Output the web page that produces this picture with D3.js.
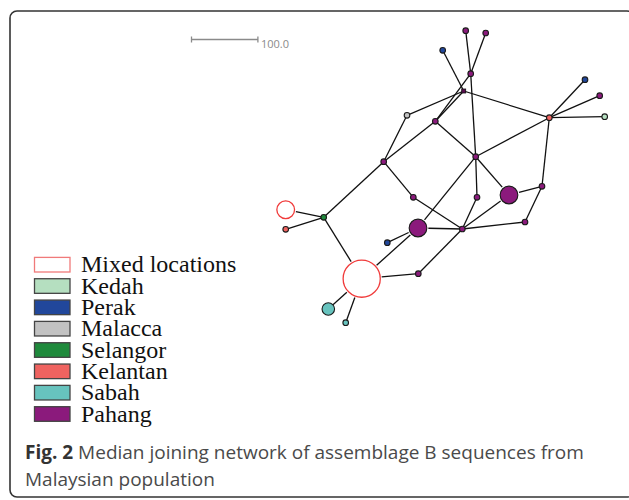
<!DOCTYPE html>
<html>
<head>
<meta charset="utf-8">
<script src="https://cdn.jsdelivr.net/npm/d3@7"></script>
<style>
  html, body { margin: 0; padding: 0; background: #fff; }
  svg { display: block; }
</style>
</head>
<body>
<svg id="chart" width="629" height="500"></svg>
<script>
// ---------- DATA ----------
const locations = ["Mixed locations", "Kedah", "Perak", "Malacca", "Selangor", "Kelantan", "Sabah", "Pahang"];
const locationColors = ["#ffffff", "#b5dfc0", "#21479b", "#c2c2c2", "#1f8a3c", "#ef6360", "#67c3be", "#8b1a7c"];

// haplotype nodes (layout units), location, frequency
const nodeIds   = ["n1","n2","n3","n4","mv","n5","n6","n7","n8","n9","n10","n11","n12","n13","n14","n15","n16","n17","n18","n19","n20","n21","n22","n23","n24","n25","n26","n27"];
const nodeLoc   = ["Pahang","Pahang","Perak","Pahang","median","Malacca","Pahang","Kelantan","Perak","Pahang","Kedah","Pahang","Pahang","Pahang","Pahang","Pahang","Pahang","Pahang","Pahang","Pahang","Perak","Selangor","Mixed locations","Kelantan","Mixed locations","Pahang","Sabah","Sabah"];
const nodeX     = [185.7, 205.7, 162.7, 190.7, 183.7, 127.0, 155.3, 269.3, 305.0, 319.7, 324.7, 195.7, 103.7, 133.3, 197.0, 229.0, 262.0, 245.0, 182.3, 138.0, 107.3, 43.7, 5.7, 5.7, 81.7, 138.3, 48.3, 65.7];
const nodeY     = [5.7, 8.0, 25.3, 48.7, 66.0, 90.3, 96.3, 92.7, 54.7, 70.7, 91.7, 131.7, 136.7, 172.3, 172.3, 170.0, 161.3, 197.0, 204.0, 203.0, 217.7, 192.3, 184.7, 204.3, 253.7, 248.7, 284.0, 297.7];
const nodeCount = [1, 1, 1, 1, 0, 1, 1, 1, 1, 1, 1, 1, 1, 1, 1, 10, 1, 1, 1, 10, 1, 1, 10, 1, 44, 1, 5, 1];

const linkSource = ["n1","n2","n3","n4","n4","mv","mv","mv","n5","n6","n6","n7","n7","n7","n7","n7","n12","n12","n13","n11","n11","n11","n14","n15","n15","n16","n17","n19","n19","n19","n21","n21","n21","n24","n25","n24","n24"];
const linkTarget = ["n4","n4","mv","n6","n11","n6","n5","n7","n12","n12","n11","n11","n8","n9","n10","n16","n21","n13","n18","n14","n15","n19","n18","n18","n16","n17","n18","n18","n20","n24","n22","n23","n24","n25","n18","n26","n27"];

const scaleBarValue = 100.0;
const scaleBarUnits = [0, 66.4];   // length of 100.0 mutations in layout units

const captionBold = "Fig. 2";
const captionLine1 = " Median joining network of assemblage B sequences from";
const captionLine2 = "Malaysian population";

// ---------- DRAW ----------
const svg = d3.select("#chart");

// frame
svg.append("rect")
  .attr("x", 10).attr("y", 11).attr("width", 624).attr("height", 486)
  .attr("rx", 7).attr("ry", 7)
  .attr("fill", "none").attr("stroke", "#333").attr("stroke-width", 1.6);

const x = d3.scaleLinear().domain([0, 330]).range([280, 610]);
const y = d3.scaleLinear().domain([0, 300]).range([25, 325]);
const r = d3.scaleSqrt().domain([0, 1]).range([0, 2.8]);
const color = d3.scaleOrdinal().domain(locations).range(locationColors);

const nodes = nodeIds.map((id, i) => ({id, loc: nodeLoc[i], x: x(nodeX[i]), y: y(nodeY[i]), count: nodeCount[i]}));
const byId = new Map(nodes.map(n => [n.id, n]));
const links = linkSource.map((s, i) => ({source: byId.get(s), target: byId.get(linkTarget[i])}));

const radius = n => n.loc === "median" ? 1.6 : r(n.count);

// links (trimmed at node borders)
svg.append("g").selectAll("line").data(links).join("line")
  .each(function(d) {
    const dx = d.target.x - d.source.x, dy = d.target.y - d.source.y;
    const len = Math.hypot(dx, dy);
    const gs = d.source.count > 5 ? radius(d.source) + 1.5 : 0;
    const gt = d.target.count > 5 ? radius(d.target) + 1.5 : 0;
    d3.select(this)
      .attr("x1", d.source.x + dx / len * gs).attr("y1", d.source.y + dy / len * gs)
      .attr("x2", d.target.x - dx / len * gt).attr("y2", d.target.y - dy / len * gt);
  })
  .attr("stroke", "#111").attr("stroke-width", 1.3);

// median vector
svg.append("g").selectAll("rect").data(nodes.filter(n => n.loc === "median")).join("rect")
  .attr("x", d => d.x - 2).attr("y", d => d.y - 2)
  .attr("width", 4).attr("height", 4)
  .attr("fill", "#5a0f50").attr("stroke", "#111").attr("stroke-width", 0.8);

// haplotype circles
svg.append("g").selectAll("circle").data(nodes.filter(n => n.loc !== "median")).join("circle")
  .attr("cx", d => d.x).attr("cy", d => d.y)
  .attr("r", radius)
  .attr("fill", d => color(d.loc))
  .attr("stroke", d => d.loc === "Mixed locations" ? "#f03a3a" : "#1a1a1a")
  .attr("stroke-width", d => d.loc === "Mixed locations" ? 1.3 : 1.1);

// scale bar
const sb = svg.append("g").attr("stroke", "#8a8a8a").attr("stroke-width", 1.3);
const sbX0 = 191.5, sbY = 39.5;
const sbLen = x(scaleBarUnits[1]) - x(scaleBarUnits[0]);
sb.append("line").attr("x1", sbX0).attr("x2", sbX0 + sbLen).attr("y1", sbY).attr("y2", sbY);
sb.append("line").attr("x1", sbX0).attr("x2", sbX0).attr("y1", sbY - 3).attr("y2", sbY + 3);
sb.append("line").attr("x1", sbX0 + sbLen).attr("x2", sbX0 + sbLen).attr("y1", sbY - 3).attr("y2", sbY + 3);
svg.append("text").attr("x", sbX0 + sbLen + 3).attr("y", 48)
  .attr("font-family", "Open Sans, sans-serif").attr("font-size", 11).attr("fill", "#8a8a8a")
  .text(scaleBarValue.toFixed(1));

// legend
const ly = d3.scalePoint().domain(locations).range([264.7, 414]);
const lg = svg.append("g").selectAll("g").data(locations).join("g")
  .attr("transform", d => `translate(0,${ly(d)})`);
lg.append("rect")
  .attr("x", 34.5).attr("y", -7.3).attr("width", 35.5).attr("height", 14.6)
  .attr("fill", d => color(d))
  .attr("stroke", d => d === "Mixed locations" ? "#f07a7a" : "#444")
  .attr("stroke-width", 1.3);
lg.append("text")
  .attr("x", 81).attr("y", 7.6)
  .attr("font-family", "Liberation Serif, Times New Roman, serif")
  .attr("font-size", 24).attr("fill", "#111")
  .text(d => d);

// caption
const cap = svg.append("text").attr("x", 25).attr("y", 459)
  .attr("font-family", "Open Sans, sans-serif").attr("font-size", 19).attr("fill", "#4a4a4a");
cap.append("tspan").attr("font-weight", "bold").attr("fill", "#333").text(captionBold);
cap.append("tspan").text(captionLine1);
svg.append("text").attr("x", 25).attr("y", 486)
  .attr("font-family", "Open Sans, sans-serif").attr("font-size", 19).attr("fill", "#4a4a4a")
  .text(captionLine2);
</script>
</body>
</html>
